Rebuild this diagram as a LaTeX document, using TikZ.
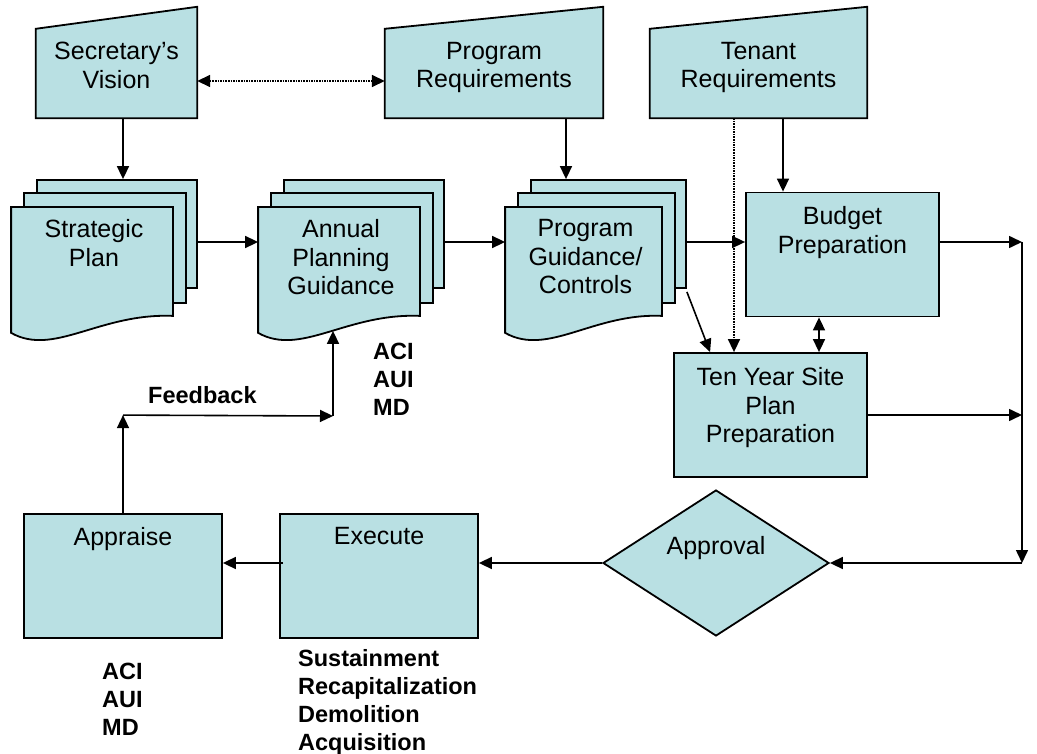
\documentclass[tikz,border=0pt]{standalone}
\usepackage{fontspec}
\setmainfont{Liberation Sans}
\usepackage{xcolor}
\usepackage{tikz}
\usetikzlibrary{calc,arrows.meta,positioning,shapes.geometric}
\definecolor{boxc}{HTML}{B9E0E3}
\tikzset{
  ar/.style={-{Triangle[length=13pt,width=12pt]},line width=1.6pt},
  dar/.style={{Triangle[length=13pt,width=12pt]}-{Triangle[length=13pt,width=12pt]},line width=1.6pt},
  dotl/.style={densely dotted,line width=1.3pt},
  shp/.style={draw,line width=1.8pt,fill=boxc},
  box/.style={shp,minimum width=#1,minimum height=124pt,inner sep=0pt},
  inbox/.style={minimum width=#1,minimum height=111pt,inner sep=0pt},
  sheet/.style={shp,minimum width=#1,minimum height=108pt,inner sep=0pt},
  txt/.style={font=\fontsize{25}{28.75}\selectfont,align=center,inner sep=0pt},
  bt/.style={font=\fontsize{23.5}{28}\selectfont\bfseries,align=left,inner sep=0pt,anchor=north west}
}
% manual input outline round a node
\newcommand{\inshape}[1]{%
  \draw[shp] (#1.south west) -- ([yshift=-22pt]#1.north west) -- (#1.north east) -- (#1.south east) -- cycle;}
% two more sheets in front of a back sheet
\newcommand{\docstack}[1]{%
  \draw[shp] ([shift={(-12pt,-14pt)}]#1.south west) rectangle ([shift={(-12pt,-14pt)}]#1.north east);
  \draw[shp] ([shift={(-25pt,-28pt)}]#1.north west) -- ([shift={(-25pt,-28pt)}]#1.north east)
    -- ([shift={(-25pt,-27pt)}]#1.south east)
    .. controls ([shift={(63pt,-24pt)}]#1.south west) and ([shift={(18pt,-68pt)}]#1.south west)
    .. ([shift={(-25pt,-44pt)}]#1.south west) -- cycle;}

\begin{document}
\begin{tikzpicture}[x=1pt,y=-1pt]
\useasboundingbox (0,0) rectangle (1037,754);
% inputs
\node[inbox=161pt] (sv) at (116.5,62.5) {};
\node[inbox=218pt] (pr) at (494,62.5) {};
\node[inbox=217pt] (tr) at (758.5,62.5) {};
\foreach \n in {sv,pr,tr} {\inshape{\n}}
\node[txt,below=35pt of sv.north] (sv-t) {Secretary’s\\Vision};
\node[txt,below=35pt of pr.north] (pr-t) {Program\\Requirements};
\node[txt,below=35pt of tr.north] (tr-t) {Tenant\\Requirements};
% document stacks
\node[sheet=160pt] (strat) at (117,234) {};
\node[sheet=160pt] (apg) at (364,234) {};
\node[sheet=155pt] (pgc) at (608.5,234) {};
\foreach \n in {strat,apg,pgc} {\docstack{\n}}
\node[txt,anchor=north] (strat-t) at ([shift={(-23pt,-40pt)}]strat.north) {Strategic\\Plan};
\node[txt,anchor=north] (apg-t) at ([shift={(-23pt,-40pt)}]apg.north) {Annual\\Planning\\Guidance};
\node[txt,anchor=north] (pgc-t) at ([shift={(-23pt,-40pt)}]pgc.north) {Program\\Guidance/\\Controls};
% process boxes
\node[box=193pt] (bud) at (842.5,254.5) {};
\node[box=193pt] (ten) at (770.5,415) {};
\node[box=198pt] (app) at (123,576) {};
\node[box=198pt] (exe) at (379,576) {};
\node[shp,diamond,minimum width=226pt,minimum height=146pt,inner sep=0pt] (apv) at (716,563) {};
\node[txt,below=15pt of bud.north] (bud-t) {Budget\\Preparation};
\node[txt,below=15pt of ten.north] (ten-t) {Ten Year Site\\Plan\\Preparation};
\node[txt,below=14pt of app.north] (app-t) {Appraise};
\node[txt,below=14pt of exe.north] (exe-t) {Execute};
\node[txt,below=47pt of apv.north] (apv-t) {Approval};
% connectors
\coordinate (c1) at ([xshift=72pt]pr.south);
\coordinate (c2) at ([xshift=24.5pt]tr.south);
\coordinate (c3) at ([xshift=-24.5pt]tr.south);
\coordinate (c4) at ([xshift=-23.5pt]bud.south);
\coordinate (r1) at (1022,242);
\coordinate (r3) at (1022,563);
\draw[ar] ([xshift=6.5pt]sv.south) -- ([xshift=6pt]strat.north);
\draw[dotl,dar] ([yshift=-18.5pt]sv.east) -- ([yshift=-18.5pt]pr.west);
\draw[ar] (c1) -- (c1 |- pgc.north);
\draw[ar] (c2) -- (c2 |- bud.north);
\draw[dotl,ar] (c3) -- (c3 |- ten.north);
\draw[ar] ([yshift=-8pt]strat.east) -- ([shift={(-25pt,-8pt)}]apg.west);
\draw[ar] ([yshift=-8pt]apg.east) -- ([shift={(-25pt,-8pt)}]pgc.west);
\draw[ar] ([yshift=-8pt]pgc.east) -- ([yshift=-8pt]pgc.east -| bud.west);
\draw[ar] ([yshift=-3pt]pgc.south east) -- ([xshift=37pt]ten.north west);
\draw[dar] (c4) -- (c4 |- ten.north);
\draw[ar] ([yshift=12.5pt]bud.east) -- (r1);
\draw[ar] (ten.east) -- (ten.east -| r1);
\draw[ar] (r1) -- (r3);
\draw[ar] (r3) -- (apv.east);
\draw[ar] (apv.west) -- (apv.west -| exe.east);
\draw[ar] ([shift={(4pt,13pt)}]exe.west) -- ([yshift=13pt]app.east);
% feedback loop
\coordinate (fb1) at ([yshift=98pt]app.north);
\coordinate (fb2) at (333,416);
\draw[ar] (app.north) -- (fb1);
\draw[ar] (fb1) -- (fb2);
\draw[ar] (fb2) -- ([shift={(-31pt,-42pt)}]apg.south);
% labels
\node[bt] (acc1) at (373,343) {ACI\\AUI\\MD};
\node[bt] (fbk) at (148,386) {Feedback};
\node[bt] (acc2) at (102,663) {ACI\\AUI\\MD};
\node[bt] (ops) at (298,649) {Sustainment\\Recapitalization\\Demolition\\Acquisition};
\end{tikzpicture}
\end{document}
